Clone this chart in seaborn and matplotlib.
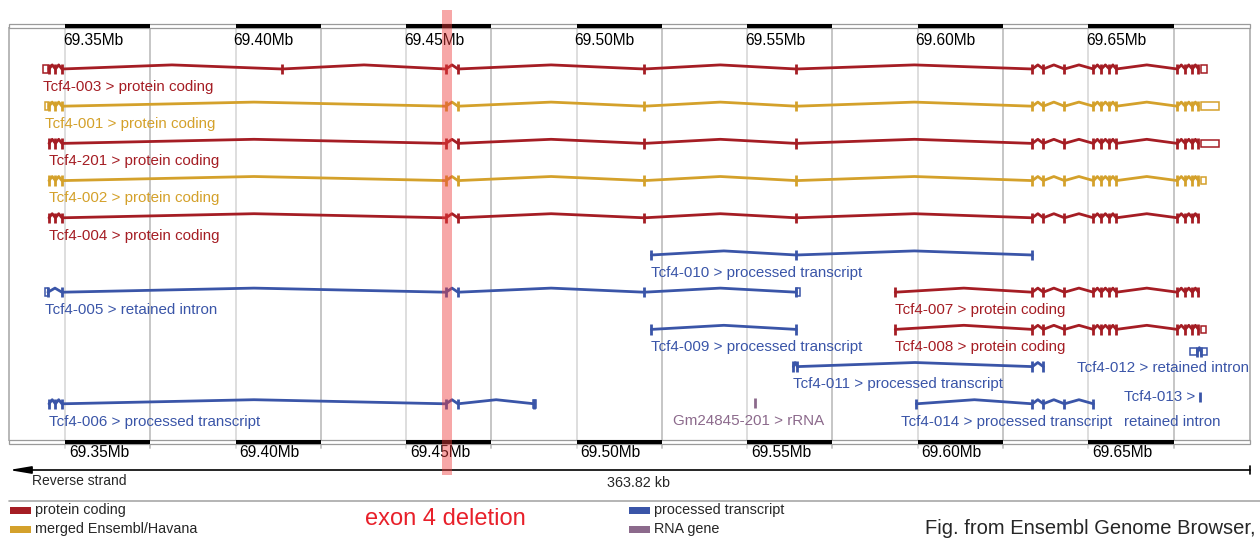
import numpy as np
import pandas as pd
import matplotlib
matplotlib.use('Agg')
import matplotlib.pyplot as plt
import seaborn as sns
from matplotlib.patches import Rectangle
from matplotlib.transforms import blended_transform_factory

# window shown by the browser (Mb), reverse strand
view_start = 69.33358
view_kb = 363.82
view_end = view_start + view_kb / 1000
deletion = (69.4606, 69.4635)  # exon 4

# exon positions (Mb)
exons_5p = [69.3453, 69.3472, 69.3491]
exons_mid = [69.4617, 69.4652, 69.5198, 69.5644]
exons_3p = [69.6336, 69.6368, 69.6430, 69.6515, 69.6538, 69.6562, 69.6582,
            69.6761, 69.6784, 69.6805, 69.6823]

names = ['Tcf4-003', 'Tcf4-001', 'Tcf4-201', 'Tcf4-002', 'Tcf4-004', 'Tcf4-010',
         'Tcf4-005', 'Tcf4-007', 'Tcf4-009', 'Tcf4-008', 'Tcf4-012', 'Tcf4-011',
         'Tcf4-013', 'Tcf4-006', 'Tcf4-014', 'Gm24845-201']
biotypes = ['protein coding', 'protein coding', 'protein coding', 'protein coding',
            'protein coding', 'processed transcript', 'retained intron', 'protein coding',
            'processed transcript', 'protein coding', 'retained intron',
            'processed transcript', 'retained intron', 'processed transcript',
            'processed transcript', 'rRNA']
groups = ['protein coding', 'merged Ensembl/Havana', 'protein coding',
          'merged Ensembl/Havana', 'protein coding', 'processed transcript',
          'processed transcript', 'protein coding', 'processed transcript',
          'protein coding', 'processed transcript', 'processed transcript',
          'processed transcript', 'processed transcript', 'processed transcript',
          'RNA gene']
rows = [0, 1, 2, 3, 4, 5, 6, 6, 7, 7, 7.6, 8, 8.82, 9, 9, 8.97]
exon_sets = [
    exons_5p + [69.4136] + exons_mid + exons_3p,
    exons_5p + exons_mid + exons_3p,
    exons_5p + exons_mid + exons_3p,
    exons_5p + exons_mid + exons_3p,
    exons_5p + exons_mid + exons_3p,
    [69.5219, 69.5644, 69.6336],
    [69.3450, 69.3491] + exons_mid,
    [69.5934] + exons_3p,
    [69.5219, 69.5644],
    [69.5934] + exons_3p,
    [69.6820, 69.6831],
    [69.5635, 69.5647, 69.6336, 69.6368],
    [69.6826],
    exons_5p + exons_mid[:2] + [69.4876],
    [69.5996, 69.6336, 69.6368, 69.6430, 69.6515],
    [69.5524],
]

# UTR ends, drawn as open boxes
utr_tx = ['Tcf4-003', 'Tcf4-003', 'Tcf4-001', 'Tcf4-001', 'Tcf4-201', 'Tcf4-002',
          'Tcf4-005', 'Tcf4-005', 'Tcf4-008', 'Tcf4-012', 'Tcf4-012', 'Tcf4-006']
utr_start = [69.3435, 69.6829, 69.3441, 69.6829, 69.6829, 69.6829,
             69.3441, 69.5644, 69.6829, 69.6797, 69.6831, 69.4873]
utr_end = [69.3450, 69.6848, 69.3450, 69.6882, 69.6882, 69.6846,
           69.3450, 69.5656, 69.6846, 69.6820, 69.6849, 69.4881]

# where a label does not start at its feature
label_x = {'Tcf4-014': 69.5952, 'Gm24845-201': 69.5283,
           'Tcf4-012': view_end - 0.0003, 'Tcf4-013': 69.6606}
label_ha = {'Tcf4-012': 'right'}
label_dy = {'Tcf4-013': 0.34, 'Tcf4-012': 0.43, 'Gm24845-201': 0.5}

palette = {'protein coding': '#a51d24', 'merged Ensembl/Havana': '#d4a12b',
           'processed transcript': '#3a55a8', 'RNA gene': '#8c6a8c'}

# intron "hats" between consecutive exons
hat = 0.11
recs, ex_recs = [], []
for name, grp, row, ex in zip(names, groups, rows, exon_sets):
    pts = [(ex[0], row)]
    for a, b in zip(ex[:-1], ex[1:]):
        pts += [((a + b) / 2, row - hat), (b, row)]
    for x, y in pts:
        recs.append({'transcript': name, 'group': grp, 'x': x, 'y': y})
    for x in ex:
        ex_recs.append({'transcript': name, 'group': grp, 'x': x, 'y': row})
lines = pd.DataFrame(recs)
exons = pd.DataFrame(ex_recs)

sns.set_theme(style='white')
plt.rcParams['font.family'] = ['Liberation Sans', 'DejaVu Sans']

W, H = 1260, 538
fig = plt.figure(figsize=(W / 100, H / 100), dpi=100)
ax = fig.add_axes([9 / W, 1 - 440 / H, 1241 / W, 412 / H])

sns.lineplot(data=lines, x='x', y='y', hue='group', units='transcript', estimator=None,
             sort=False, palette=palette, linewidth=2.0, legend=False, ax=ax, zorder=3)
sns.scatterplot(data=exons, x='x', y='y', hue='group', palette=palette, marker='|',
                s=55, linewidth=2.0, legend=False, ax=ax, zorder=3)

colour_of = dict(zip(names, [palette[g] for g in groups]))
row_of = dict(zip(names, rows))
for t, s, e in zip(utr_tx, utr_start, utr_end):
    ax.add_patch(Rectangle((s, row_of[t] - 0.1), e - s, 0.2, fill=False,
                           ec=colour_of[t], lw=1.1, zorder=3))

for name, bt, grp, row, ex in zip(names, biotypes, groups, rows, exon_sets):
    starts = [s for t, s in zip(utr_tx, utr_start) if t == name]
    x0 = label_x.get(name, min(ex + starts))
    txt = f'{name} > {bt}'
    if name == 'Tcf4-013':
        txt = f'{name} >\n{bt}'
    ax.text(x0, row + label_dy.get(name, 0.48), txt, color=palette[grp], fontsize=10.9,
            ha=label_ha.get(name, 'left'), va='center', linespacing=2.0)

ax.set_xlim(view_start, view_end)
ax.set_ylim(9.973, -1.102)
ax.set_xticks([])
ax.set_yticks([])
ax.set_xlabel('')
ax.set_ylabel('')
for side in ('top', 'bottom'):
    ax.spines[side].set_visible(False)
for side in ('left', 'right'):
    ax.spines[side].set_color('#b8b8b8')
    ax.spines[side].set_linewidth(1.4)

# position grid every 25 kb
trans = blended_transform_factory(ax.transData, ax.transAxes)
grid_pos = np.arange(69.35, view_end, 0.025)
for k, gx in enumerate(grid_pos):
    ax.axvline(gx, ymin=-8 / 412, ymax=1, color='#dedede' if k % 2 == 0 else '#c6c6c6',
               lw=1.4, zorder=0, clip_on=False)

# scale bars top and bottom
bar_h = 3.8 / 412
for y0 in (1.0, -bar_h):
    ax.add_patch(Rectangle((view_start, y0), view_end - view_start, bar_h, transform=trans,
                           fc='white', ec='#9a9a9a', lw=0.9, clip_on=False, zorder=4))
    for gx in grid_pos[::2]:
        x1 = min(gx + 0.025, view_end)
        ax.add_patch(Rectangle((gx, y0), x1 - gx, bar_h, transform=trans, fc='black',
                               lw=0, clip_on=False, zorder=5))

for gx in grid_pos[::2]:
    lab = f'{gx:.2f}Mb'
    ax.text(gx - 0.0006, 1 - 13 / 412, lab, transform=trans, ha='left', va='center',
            fontsize=11.2, color='black')
    ax.text(gx + 0.0011, -12.7 / 412, lab, transform=trans, ha='left', va='center',
            fontsize=11.2, color='black')

# deleted exon 4
ax.axvspan(deletion[0], deletion[1], ymin=-35 / 412, ymax=430 / 412, color='#ee3c3c',
           alpha=0.45, lw=0, zorder=10, clip_on=False)

# strand arrow
ax.annotate('', xy=(view_start, -30 / 412), xytext=(view_end, -30 / 412),
            xycoords=trans, textcoords=trans,
            arrowprops=dict(arrowstyle='-|>,head_length=1.3,head_width=0.22',
                            color='black', lw=1.2, shrinkA=0, shrinkB=0,
                            mutation_scale=10))
ax.plot([view_end, view_end], [-26 / 412, -34 / 412], transform=trans, color='black',
        lw=1.2, clip_on=False)
fig.text(32 / W, 1 - 481 / H, 'Reverse strand', fontsize=10, va='center', ha='left')
fig.text(607 / W, 1 - 483 / H, f'{view_kb:.2f} kb', fontsize=10.3, va='center', ha='left')

# legend strip
fig.add_artist(plt.Line2D([9 / W, 1], [1 - 500.7 / H] * 2, color='#a8a8a8', lw=1.2))
legend_items = [('protein coding', 10, 510), ('merged Ensembl/Havana', 10, 529),
                ('processed transcript', 629, 510), ('RNA gene', 629, 529)]
for lab, lx, ly in legend_items:
    fig.add_artist(Rectangle((lx / W, 1 - (ly + 3.5) / H), 21 / W, 7 / H,
                             transform=fig.transFigure, color=palette[lab], lw=0))
    fig.text((lx + 25) / W, 1 - ly / H, lab, fontsize=10.4, va='center', ha='left')

fig.text(365 / W, 1 - 519 / H, 'exon 4 deletion', fontsize=17, color='#e8202a',
         va='center', ha='left')
fig.text(925 / W, 1 - 529 / H, 'Fig. from Ensembl Genome Browser,', fontsize=14.5,
         va='center', ha='left')

fig.savefig('out.png', dpi=100)
